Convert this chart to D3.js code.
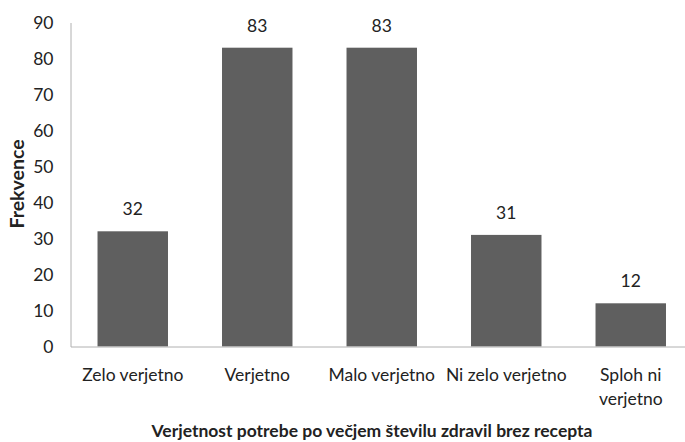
<!DOCTYPE html>
<html><head><meta charset="utf-8">
<script src="https://cdn.jsdelivr.net/npm/d3@7"></script>
<style>body{margin:0;background:#fff}svg{display:block}text{font-family:Lato,"Open Sans",sans-serif;fill:#222}</style>
</head><body><svg id="c" width="685" height="442"></svg>
<script>
const categories = ["Zelo verjetno","Verjetno","Malo verjetno","Ni zelo verjetno","Sploh ni verjetno"];
const values = [32,83,83,31,12];
const yTicks = [0,10,20,30,40,50,60,70,80,90];
const xTitle = "Verjetnost potrebe po večjem številu zdravil brez recepta";
const yTitle = "Frekvence";

(function(){
const svg = d3.select("#c");
const mLeft = 70.5, mBottom = 346.5, mTop = 22.5, mRight = 693;
const fs = "17.5px";
const x = d3.scaleBand().domain(categories).range([mLeft, mRight]).paddingInner(0.434).paddingOuter(0.217);
const y = d3.scaleLinear().domain([0,90]).range([mBottom, mTop]);

const ya = svg.append("g").attr("transform",`translate(${mLeft},0)`).call(d3.axisLeft(y).tickValues(yTicks).tickSize(0).tickPadding(17));
ya.select(".domain").attr("stroke","#b0b0b0");
ya.selectAll("text").style("font-size",fs).style("font-family","Lato").attr("fill","#222");

svg.selectAll("rect.bar").data(values).join("rect").attr("class","bar")
  .attr("x",(d,i)=>x(categories[i])).attr("width",x.bandwidth())
  .attr("y",d=>y(d)).attr("height",d=>y(0)-y(d)).attr("fill","#5f5f5f");

const xa = svg.append("g").attr("transform",`translate(0,${mBottom})`).call(d3.axisBottom(x).tickSize(0).tickFormat(""));
xa.select(".domain").attr("stroke","#b0b0b0");

categories.forEach((c,i)=>{
  const cx = x(c)+x.bandwidth()/2;
  const lines = c==="Sploh ni verjetno" ? ["Sploh ni","verjetno"] : [c];
  lines.forEach((l,j)=>{
    svg.append("text").attr("x",cx).attr("y",381+j*24).attr("text-anchor","middle").style("font-size",fs).text(l);
  });
});

svg.selectAll("text.val").data(values).join("text").attr("class","val")
  .attr("x",(d,i)=>x(categories[i])+x.bandwidth()/2).attr("y",d=>y(d)-16)
  .attr("text-anchor","middle").style("font-size",fs).text(d=>d);

svg.append("text").attr("x",372).attr("y",437).attr("text-anchor","middle").style("font-size",fs).style("font-weight","bold").text(xTitle);
svg.append("text").attr("transform","translate(24,184) rotate(-90)").attr("text-anchor","middle").style("font-size","19.5px").style("font-weight","bold").text(yTitle);
})();
</script></body></html>
